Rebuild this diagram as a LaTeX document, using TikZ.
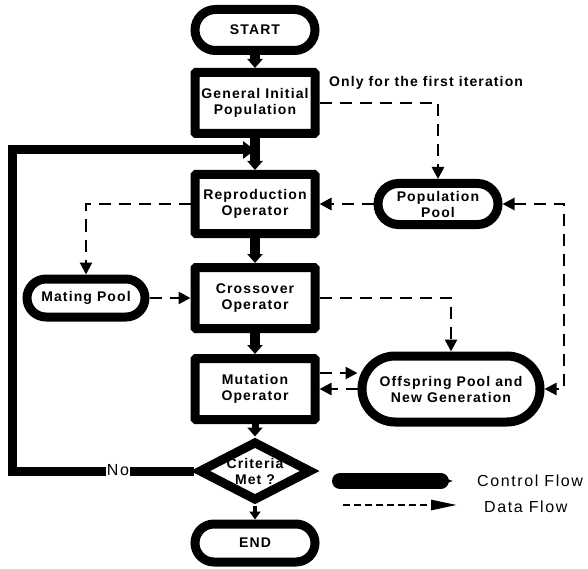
\documentclass[tikz,border=0pt]{standalone}
\usepackage{fontspec}
\setmainfont{Liberation Sans}
\newfontfamily\lblfont[LetterSpace=8]{Liberation Sans}
\newfontfamily\legfont[LetterSpace=10]{Liberation Sans}
\usetikzlibrary{arrows.meta,shapes.misc,shapes.geometric}
\begin{document}
\begin{tikzpicture}[x=1pt,y=-1pt,
  lbl/.style={font=\lblfont\bfseries\fontsize{14}{16}\selectfont, align=center, inner sep=0pt},
  leg/.style={font=\legfont\fontsize{16}{18}\selectfont, inner sep=0pt},
  box/.style={lbl, draw, line width=9pt, rectangle, rounded corners=1pt, minimum width=120pt, minimum height=61pt},
  pill/.style={lbl, draw, line width=9pt, rounded rectangle, minimum width=120pt, minimum height=41pt},
  decision/.style={lbl, draw, line width=9pt, diamond, aspect=1.85, inner sep=-1pt, minimum width=113pt, minimum height=60pt},
  ctrl/.style={line width=10pt, -{Triangle[length=9pt,width=15pt]}},
  loopline/.style={line width=9pt, -{Triangle[length=12pt,width=17pt]}},
  data/.style={line width=2.6pt, dash pattern=on 12pt off 8pt, -{Triangle[length=12pt,width=12pt]}},
  nolbl/.style={font=\legfont\fontsize{16}{18}\selectfont, fill=white, inner sep=1pt}]
\fill[white] (0,0) rectangle (588,569);
\useasboundingbox (0,0) rectangle (588,569);

% main column
\node[pill] (start) at (255,30) {START};
\node[box] (gip) at (255,103) {General Initial\\Population};
\node[box, minimum height=59pt] (repro) at (255,204) {Reproduction\\Operator};
\node[box] (cross) at (255,298) {Crossover\\Operator};
\node[box] (mut) at (255,389) {Mutation\\Operator};
\node[decision] (crit) at (255,471) {Criteria\\Met ?};
\node[pill, minimum height=38pt] (end) at (255,543) {END};

% side nodes
\node[pill] (pop) at (438,204) {Population\\Pool};
\node[pill, minimum width=118pt, minimum height=38pt] (mate) at (86,298) {Mating Pool};
\node[pill, minimum width=178pt, minimum height=66pt] (off) at (451,389) {Offspring Pool and\\New Generation};

\node[lbl, anchor=west] (onlyt) at (329,83) {Only for the first iteration};

% control flow
\draw[ctrl] (start) -- (gip);
\draw[ctrl] (gip) -- (repro);
\draw[ctrl] (repro) -- (cross);
\draw[ctrl] (cross) -- (mut);
\draw[ctrl, line width=7pt] (mut) -- (crit);
\draw[ctrl, line width=4pt, -{Triangle[length=8pt,width=11pt]}] (crit) -- (end);

% loop back
\coordinate (lc) at (12,150);
\coordinate (lt) at (255,150);
\draw[loopline] (crit.west) -- (crit.west -| lc) -- (lc) -- (lt);
\node[nolbl] (no) at (118,470) {No};

% data flow
\draw[data] (gip.east) -| (pop.north);
\draw[data] (pop.west) -- (repro.east);
\draw[data] (repro.west) -| (mate.north);
\draw[data] (mate.east) -- (cross.west);
\draw[data] (cross.east) -| (off.north);
\draw[data] ([yshift=16pt]mut.east) -- ([yshift=16pt]mut.east -| off.west);
\draw[data] (off.west) -- (mut.east);
\coordinate (rc) at (564,204);
\draw[data, {Triangle[length=12pt,width=12pt]}-{Triangle[length=12pt,width=12pt]}] (pop.east) -- (rc) |- (off.east);

% legend
\coordinate (cf1) at (340,481);
\coordinate (cf2) at (454,481);
\draw[line width=16pt, line cap=round, -{Triangle[length=14pt,width=8pt]}] (cf1) -- (cf2);
\node[leg, anchor=west] (cft) at (477,481) {Control Flow};
\coordinate (df1) at (343,505);
\coordinate (df2) at (457,505);
\draw[line width=2.6pt, dash pattern=on 7pt off 4pt, -{Triangle[length=26pt,width=10pt]}] (df1) -- (df2);
\node[leg, anchor=west] (dft) at (484,507) {Data Flow};
\end{tikzpicture}
\end{document}
